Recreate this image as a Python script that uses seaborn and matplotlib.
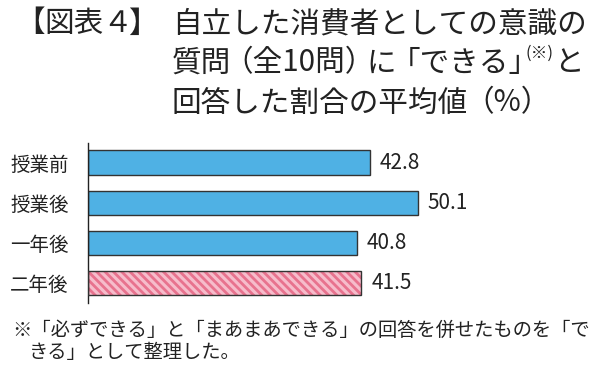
import matplotlib
matplotlib.use("Agg")
import matplotlib.pyplot as plt
import seaborn as sns
import pandas as pd

categories = ["授業前", "授業後", "一年後", "二年後"]
values = [42.8, 50.1, 40.8, 41.5]
value_labels = ["42.8", "50.1", "40.8", "41.5"]

sns.set_theme(style="white")
plt.rcParams['font.family'] = ['Noto Sans CJK JP', 'DejaVu Sans']
plt.rcParams['hatch.linewidth'] = 2.0

df = pd.DataFrame({"cat": categories, "val": values})

W, H = 600, 376
fig = plt.figure(figsize=(W / 100, H / 100), dpi=100)
ax = fig.add_axes([0.147, 0.194, 0.833, 0.426])

blue = "#4fb1e4"
pink_light = "#f6bccb"
pink_dark = "#e8728e"
palette = {c: blue for c in categories}
palette["二年後"] = pink_light

sns.barplot(data=df, y="cat", x="val", hue="cat", palette=palette, orient="h",
            width=0.62, edgecolor="#333333", linewidth=1.0, legend=False,
            saturation=1, ax=ax)

for p, c in zip(ax.patches, categories):
    if c == "二年後":
        p.set_hatch("\\\\\\\\")
        p.set_edgecolor(pink_dark)
        p.set_linewidth(0)
        ax.add_patch(plt.Rectangle(p.get_xy(), p.get_width(), p.get_height(),
                                   fill=False, edgecolor="#333333", linewidth=1.0, zorder=5))

ax.set_xlim(0, 75.9)
ax.set_ylim(3.5, -0.5)
ax.set_xlabel("")
ax.set_ylabel("")
ax.set_xticks([])
ax.tick_params(axis="y", length=0, pad=14, labelsize=14, labelcolor="#222222")
for s in ["top", "right", "bottom"]:
    ax.spines[s].set_visible(False)
ax.spines["left"].set_color("#222222")
ax.spines["left"].set_linewidth(1.0)

for i, (v, lab) in enumerate(zip(values, value_labels)):
    ax.annotate(lab, xy=(v, i), xytext=(7, 0), textcoords="offset points",
                va="center", ha="left", fontsize=15, color="#222222")

tc = "#222222"
fig.canvas.draw()
renderer = fig.canvas.get_renderer()


def draw_run(x_px, y_px, pieces, size):
    """pieces: list of (text, gap_before_px, fontsize_scale, dy_px); placed by advance extent"""
    x = x_px
    for text, gap, scale, dy in pieces:
        x += gap
        t = fig.text(x / W, 1 - (y_px + dy) / H, text, fontsize=size * scale,
                     color=tc, va="center", ha="left")
        bb = t.get_window_extent(renderer=renderer)
        x = bb.x1


S = 21.3
draw_run(15, 24, [("【", 0, 1, 0), ("図表４", 0, 1, 0), ("】", -5, 1, 0)], S)
draw_run(172, 24, [("自立した消費者としての意識の", 0, 1, 0)], S)
draw_run(172, 63, [("質問", 0, 1, 0), ("（全10問）", -8, 1, 0), ("に", -8, 1, 0),
                   ("「できる」", -6, 1, 0), ("(※)", -13, 0.56, -10), ("と", 1, 1, 0)], S)
draw_run(172, 103, [("回答した割合の平均値", 0, 1, 0), ("（%）", -4, 1, 0)], S)

FS = 13.9
draw_run(12, 330, [("※「必ずできる」と「まあまあできる」の回答を併せたものを「で", 0, 1, 0)], FS)
draw_run(29, 353, [("きる」として整理した。", 0, 1, 0)], FS)

fig.savefig("out.png", dpi=100)
